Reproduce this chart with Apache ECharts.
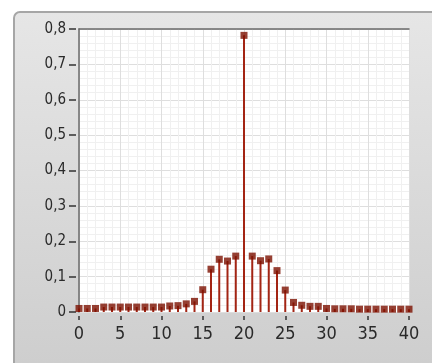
<!DOCTYPE html>
<html>
<head>
<meta charset="utf-8">
<script src="https://cdn.jsdelivr.net/npm/echarts@6/dist/echarts.min.js"></script>
<style>
html,body{margin:0;padding:0;background:#fff;}
#c{width:432px;height:363px;}
</style>
</head>
<body>
<div id="c"></div>
<script>
var xPositions = [0,1,2,3,4,5,6,7,8,9,10,11,12,13,14,15,16,17,18,19,20,21,22,23,24,25,26,27,28,29,30,31,32,33,34,35,36,37,38,39,40];
var amplitudes = [0.010,0.010,0.010,0.014,0.014,0.014,0.014,0.014,0.014,0.014,0.014,0.017,0.018,0.023,0.030,0.063,0.121,0.149,0.144,0.158,0.782,0.158,0.145,0.150,0.117,0.062,0.027,0.019,0.016,0.016,0.010,0.009,0.009,0.009,0.008,0.008,0.008,0.008,0.008,0.008,0.008];
var xTicks = [0,5,10,15,20,25,30,35,40];
var yTicks = [0,0.1,0.2,0.3,0.4,0.5,0.6,0.7,0.8];

var pts = xPositions.map(function(x,i){return [x, amplitudes[i]];});
var chart = echarts.init(document.getElementById('c'), null, {renderer:'canvas'});
var fontY = '"Liberation Sans Narrow","DejaVu Sans Condensed",sans-serif';
chart.setOption({
  backgroundColor:'#ffffff',
  animation:false,
  graphic:[{
    type:'rect', z:-100, silent:true,
    shape:{x:14,y:12,width:460,height:380,r:6},
    style:{
      fill:{type:'linear',x:0,y:0,x2:0,y2:1,colorStops:[{offset:0,color:'#e6e6e6'},{offset:1,color:'#cccccc'}]},
      stroke:'#a6a6a6', lineWidth:2
    }
  }],
  grid:{left:79,right:23,top:29,bottom:51,show:true,backgroundColor:'#ffffff',borderWidth:0},
  xAxis:[{
    type:'value', min:xTicks[0], max:xTicks[xTicks.length-1], interval:5,
    offset:4, position:'bottom',
    axisLine:{show:true,onZero:false,lineStyle:{color:'rgba(0,0,0,0)',width:1}},
    axisTick:{show:true,inside:false,length:4,lineStyle:{color:'#333',width:1.5}},
    axisLabel:{color:'#2a2a2a',fontFamily:fontY,fontSize:18,margin:9},
    splitLine:{show:true,lineStyle:{color:'#dedede',width:1}},
    minorTick:{show:false,splitNumber:5},
    minorSplitLine:{show:true,lineStyle:{color:'#f0f0f0',width:1}}
  },{
    type:'value', position:'top', min:0, max:40,
    axisLine:{show:true,onZero:false,lineStyle:{color:'#6a6a6a',width:1.5}},
    axisTick:{show:false}, axisLabel:{show:false}, splitLine:{show:false}
  }],
  yAxis:[{
    type:'value', min:yTicks[0], max:yTicks[yTicks.length-1], interval:0.1,
    offset:3, position:'left',
    axisLine:{show:true,onZero:false,lineStyle:{color:'rgba(0,0,0,0)',width:1}},
    axisTick:{show:true,inside:false,length:7,lineStyle:{color:'#333',width:1.5}},
    axisLabel:{color:'#2a2a2a',fontFamily:fontY,fontSize:15,margin:10,
      formatter:function(v){return v===0?'0':v.toFixed(1).replace('.',',');}},
    splitLine:{show:true,lineStyle:{color:'#dedede',width:1}},
    minorTick:{show:false,splitNumber:5},
    minorSplitLine:{show:true,lineStyle:{color:'#f0f0f0',width:1}}
  },{
    type:'value', position:'left', min:0, max:0.8,
    axisLine:{show:true,onZero:false,lineStyle:{color:'#6a6a6a',width:1.5}},
    axisTick:{show:false}, axisLabel:{show:false}, splitLine:{show:false}
  }],
  series:[{
    type:'bar', data:pts, barWidth:2, xAxisIndex:0, yAxisIndex:0,
    itemStyle:{color:'#a32514'}, z:2
  },{
    type:'scatter', data:pts, symbol:'rect', symbolSize:7, xAxisIndex:0, yAxisIndex:0,
    itemStyle:{color:'#7c1000'}, z:3, clip:false
  }]
});
</script>
</body>
</html>
